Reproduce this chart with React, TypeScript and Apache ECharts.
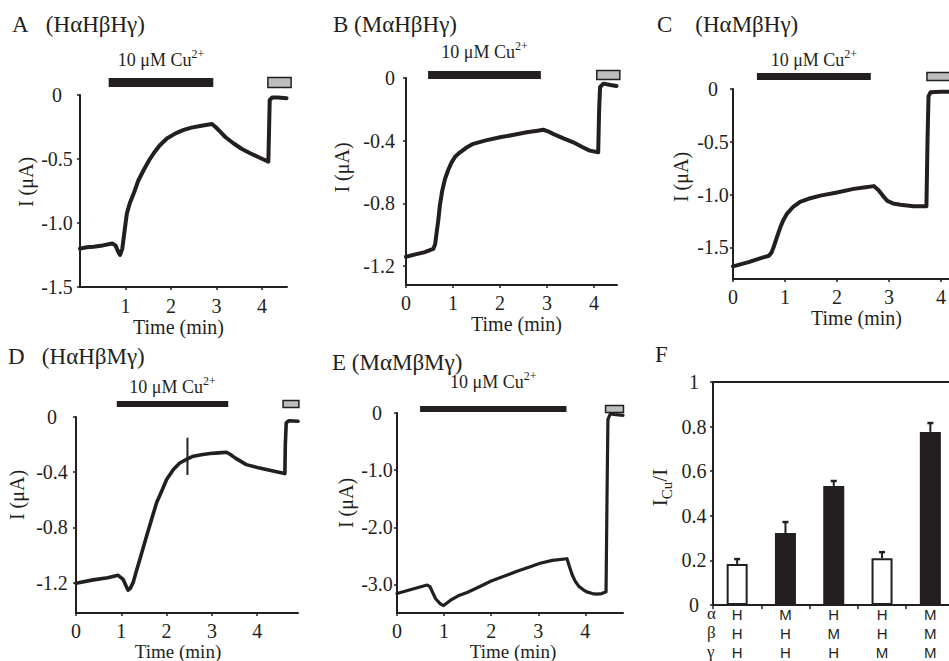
import { useEffect, useRef } from "react";
import * as echarts from "echarts";

// ---------- Data ----------
// Panel A (HαHβHγ)
const timeA = [0, 0.15, 0.3, 0.5, 0.71, 0.78, 0.84, 0.88, 0.93, 0.98, 1.03, 1.1, 1.18, 1.28, 1.4, 1.52, 1.62, 1.75, 1.91, 2.1, 2.28, 2.45, 2.64, 2.8, 2.9, 2.98, 3.08, 3.2, 3.37, 3.55, 3.74, 3.95, 4.14, 4.17, 4.22, 4.35, 4.54];
const currentA = [-1.2, -1.19, -1.185, -1.175, -1.16, -1.175, -1.225, -1.25, -1.2, -1.06, -0.925, -0.84, -0.77, -0.67, -0.586, -0.51, -0.455, -0.395, -0.34, -0.3, -0.273, -0.255, -0.242, -0.232, -0.227, -0.25, -0.286, -0.33, -0.377, -0.42, -0.455, -0.49, -0.52, -0.04, -0.02, -0.02, -0.025];
const cuA = [0.63, 2.93];
const washA = [4.13, 4.64];
const yTicksA = [0, -0.5, -1, -1.5];
const xTicksA = [1, 2, 3, 4];

// Panel B (MαHβHγ)
const timeB = [0, 0.2, 0.4, 0.58, 0.62, 0.65, 0.69, 0.72, 0.77, 0.83, 0.9, 0.97, 1.05, 1.15, 1.28, 1.43, 1.7, 2.0, 2.3, 2.57, 2.8, 2.92, 3.02, 3.13, 3.35, 3.56, 3.75, 3.91, 4.09, 4.11, 4.13, 4.2, 4.35, 4.48];
const currentB = [-1.14, -1.125, -1.11, -1.09, -1.06, -0.99, -0.9, -0.815, -0.72, -0.644, -0.585, -0.538, -0.5, -0.474, -0.445, -0.42, -0.398, -0.378, -0.362, -0.346, -0.336, -0.33, -0.34, -0.356, -0.385, -0.41, -0.44, -0.463, -0.474, -0.2, -0.058, -0.036, -0.045, -0.051];
const cuB = [0.47, 2.87];
const washB = [4.06, 4.55];
const yTicksB = [0, -0.4, -0.8, -1.2];
const xTicksB = [0, 1, 2, 3, 4];

// Panel C (HαMβHγ)
const timeC = [0, 0.3, 0.55, 0.69, 0.74, 0.78, 0.84, 0.91, 0.97, 1.04, 1.15, 1.29, 1.45, 1.68, 2.0, 2.32, 2.55, 2.71, 2.8, 2.88, 2.96, 3.08, 3.22, 3.47, 3.72, 3.74, 3.76, 3.8, 4.0, 4.3, 4.75];
const currentC = [-1.68, -1.64, -1.6, -1.58, -1.55, -1.5, -1.41, -1.31, -1.24, -1.18, -1.12, -1.07, -1.04, -1.01, -0.98, -0.946, -0.93, -0.92, -0.96, -1.01, -1.057, -1.085, -1.096, -1.11, -1.11, -0.5, -0.07, -0.03, -0.025, -0.025, -0.025];
const cuC = [0.46, 2.65];
const washC = [3.73, 4.2];
const yTicksC = [0, -0.5, -1, -1.5];
const xTicksC = [0, 1, 2, 3, 4];

// Panel D (HαHβMγ)
const timeD = [0, 0.38, 0.7, 0.93, 1.04, 1.1, 1.15, 1.2, 1.26, 1.33, 1.41, 1.56, 1.67, 1.78, 1.9, 2.0, 2.15, 2.29, 2.45, 2.59, 2.8, 2.96, 3.15, 3.32, 3.4, 3.51, 3.76, 4.0, 4.2, 4.4, 4.61, 4.62, 4.64, 4.7, 4.9];
const currentD = [-1.205, -1.18, -1.165, -1.147, -1.176, -1.22, -1.255, -1.24, -1.2, -1.12, -1.03, -0.86, -0.74, -0.62, -0.53, -0.453, -0.38, -0.333, -0.305, -0.284, -0.272, -0.265, -0.26, -0.255, -0.27, -0.296, -0.345, -0.365, -0.38, -0.395, -0.41, -0.2, -0.043, -0.027, -0.031];
const markTimeD = [2.46, 2.46];
const markCurrentD = [-0.15, -0.42];
const cuD = [0.9, 3.36];
const washD = [4.57, 4.92];
const yTicksD = [0, -0.4, -0.8, -1.2];
const xTicksD = [0, 1, 2, 3, 4];

// Panel E (MαMβMγ)
const timeE = [0, 0.3, 0.64, 0.7, 0.74, 0.82, 0.92, 0.99, 1.13, 1.3, 1.49, 1.75, 2.0, 2.3, 2.55, 2.8, 3.04, 3.3, 3.61, 3.66, 3.72, 3.79, 3.86, 3.95, 4.03, 4.15, 4.25, 4.35, 4.44, 4.46, 4.48, 4.53, 4.65, 4.8];
const currentE = [-3.16, -3.09, -3.01, -3.04, -3.11, -3.25, -3.34, -3.37, -3.28, -3.2, -3.14, -3.04, -2.94, -2.85, -2.77, -2.7, -2.63, -2.58, -2.55, -2.68, -2.83, -2.95, -3.03, -3.09, -3.13, -3.16, -3.17, -3.16, -3.13, -1.5, -0.11, -0.017, -0.03, -0.04];
const cuE = [0.49, 3.6];
const washE = [4.43, 4.81];
const yTicksE = [0, -1, -2, -3];
const xTicksE = [0, 1, 2, 3, 4];

// Panel F
const alphaRow = ["H", "M", "H", "H", "M"];
const betaRow = ["H", "H", "M", "H", "M"];
const gammaRow = ["H", "H", "H", "M", "M"];
const ratioCu = [0.184, 0.323, 0.534, 0.21, 0.776];
const ratioErr = [0.022, 0.049, 0.022, 0.027, 0.04];
const yTicksF = [0, 0.2, 0.4, 0.6, 0.8, 1];

// ---------- Styles ----------
const INK = "#231f20";
const GRAY = "#bcbec0";
const SERIF = "'Liberation Serif','Times New Roman',serif";
const SANS = "'Liberation Sans',Arial,sans-serif";

type Layout = {
  title: string; titleLeft: number; titleTop: number;
  grid: { left: number; top: number; width: number; height: number };
  xMax: number; yMin: number;
  xLabelMargin: number; xNameGap: number; xNameShift: number; xNameSize: number;
  yAlign: string; yLabelMargin: number; yNameGap: number; yNameUp: number;
  barUp: number; thick: number; labelUp: number; lineWidth: number;
};

const panels = [
  { time: timeA, current: currentA, cu: cuA, wash: washA, yTicks: yTicksA, xTicks: xTicksA },
  { time: timeB, current: currentB, cu: cuB, wash: washB, yTicks: yTicksB, xTicks: xTicksB },
  { time: timeC, current: currentC, cu: cuC, wash: washC, yTicks: yTicksC, xTicks: xTicksC },
  { time: timeD, current: currentD, cu: cuD, wash: washD, yTicks: yTicksD, xTicks: xTicksD },
  { time: timeE, current: currentE, cu: cuE, wash: washE, yTicks: yTicksE, xTicks: xTicksE },
];

const NB = "\u00a0";
const layouts: Layout[] = [
  { title: `A${NB}${NB}${NB}(HαHβHγ)`, titleLeft: 12, titleTop: 13, grid: { left: 80, top: 95, width: 207, height: 192 }, xMax: 4.55, yMin: -1.5, xLabelMargin: 9, xNameGap: 24, xNameShift: -5, xNameSize: 20, yAlign: "center", yLabelMargin: 23, yNameGap: 44, yNameUp: 9, barUp: 17, thick: 9, labelUp: 35, lineWidth: 4 },
  { title: `B${NB}(MαHβHγ)`, titleLeft: 333, titleTop: 13, grid: { left: 406, top: 78, width: 211, height: 207 }, xMax: 4.49, yMin: -1.32, xLabelMargin: 8, xNameGap: 26, xNameShift: 5, xNameSize: 20, yAlign: "right", yLabelMargin: 11, yNameGap: 54, yNameUp: 14, barUp: 7, thick: 8, labelUp: 26, lineWidth: 4 },
  { title: `C${NB}${NB}${NB}${NB}(HαMβHγ)`, titleLeft: 657, titleTop: 13, grid: { left: 733, top: 89, width: 247, height: 190 }, xMax: 4.75, yMin: -1.8, xLabelMargin: 8, xNameGap: 25, xNameShift: 0, xNameSize: 20, yAlign: "center", yLabelMargin: 20, yNameGap: 42, yNameUp: 7, barUp: 16, thick: 7, labelUp: 29, lineWidth: 4 },
  { title: `D${NB}${NB}${NB}(HαHβMγ)`, titleLeft: 8, titleTop: 345, grid: { left: 76, top: 417, width: 222, height: 196 }, xMax: 4.9, yMin: -1.42, xLabelMargin: 8, xNameGap: 22, xNameShift: -9, xNameSize: 19, yAlign: "center", yLabelMargin: 24, yNameGap: 49, yNameUp: 20, barUp: 16, thick: 6, labelUp: 30, lineWidth: 3.6 },
  { title: `E${NB}(MαMβMγ)`, titleLeft: 332, titleTop: 351, grid: { left: 397, top: 413, width: 226, height: 200 }, xMax: 4.8, yMin: -3.5, xLabelMargin: 8, xNameGap: 22, xNameShift: 3, xNameSize: 19, yAlign: "center", yLabelMargin: 20, yNameGap: 41, yNameUp: 10, barUp: 7, thick: 6, labelUp: 31, lineWidth: 3.2 },
];
const gridF = { left: 713, top: 382, width: 241.5, height: 223 };

function buildOption(): any {
  const grids: any[] = [];
  const xAxes: any[] = [];
  const yAxes: any[] = [];
  const series: any[] = [];
  const titles: any[] = [];
  const textBase = { color: INK, fontFamily: SERIF, fontWeight: "normal" as const };

  panels.forEach((p, i) => {
    const L = layouts[i];
    grids.push({ ...L.grid, containLabel: false, outerBoundsMode: "none" });
    titles.push({ text: L.title, left: L.titleLeft, top: L.titleTop, padding: 0, textStyle: { ...textBase, fontSize: 23 } });
    xAxes.push({
      type: "value", gridIndex: i, min: 0, max: L.xMax,
      axisLine: { show: true, onZero: false, lineStyle: { color: INK, width: 2 } },
      axisTick: { show: true, length: 3, customValues: p.xTicks, lineStyle: { color: INK, width: 1.5 } },
      axisLabel: { customValues: p.xTicks, ...textBase, fontSize: 20, margin: L.xLabelMargin, formatter: (v: number) => String(v) },
      splitLine: { show: false },
      name: "Time (min)", nameLocation: "middle", nameGap: L.xNameGap,
      nameTextStyle: { ...textBase, fontSize: L.xNameSize, lineHeight: L.xNameSize, padding: L.xNameShift < 0 ? [0, -2 * L.xNameShift, 0, 0] : [0, 0, 0, 2 * L.xNameShift] },
    });
    yAxes.push({
      type: "value", gridIndex: i, min: L.yMin, max: 0,
      axisLine: { show: true, onZero: false, lineStyle: { color: INK, width: 2 } },
      axisTick: { show: true, length: 3, customValues: p.yTicks, lineStyle: { color: INK, width: 1.5 } },
      axisLabel: { customValues: p.yTicks, ...textBase, fontSize: 20, align: L.yAlign, margin: L.yLabelMargin, formatter: (v: number) => (v === 0 ? "0" : v.toFixed(1)) },
      splitLine: { show: false },
      name: "I (μA)", nameLocation: "middle", nameGap: L.yNameGap,
      nameTextStyle: { ...textBase, fontSize: 20, padding: [0, 0, 0, 2 * L.yNameUp] },
    });
    series.push({
      type: "line", xAxisIndex: i, yAxisIndex: i, showSymbol: false, silent: true,
      data: p.time.map((t, k) => [t, p.current[k]]),
      lineStyle: { color: INK, width: L.lineWidth, join: "round", cap: "round" },
      z: 3,
    });
    series.push({
      type: "custom", xAxisIndex: i, yAxisIndex: i, clip: false, silent: true,
      data: [[p.cu[0], p.cu[1], 0], [p.wash[0], p.wash[1], 1]],
      encode: { x: [0, 1] },
      renderItem: (params: any, api: any) => {
        const x0 = api.coord([api.value(0), 0])[0];
        const x1 = api.coord([api.value(1), 0])[0];
        const top = params.coordSys.y;
        if (api.value(2) === 0) {
          return {
            type: "group",
            children: [
              { type: "rect", shape: { x: x0, y: top - L.barUp, width: x1 - x0, height: L.thick }, style: { fill: INK } },
              {
                type: "text", x: (x0 + x1) / 2, y: top - L.labelUp,
                style: {
                  text: "10 μM Cu{sup|2+}", fill: INK, fontFamily: SERIF, fontSize: 18, lineHeight: 24,
                  align: "center", verticalAlign: "middle",
                  rich: { sup: { fontSize: 12, fontFamily: SERIF, fill: INK, verticalAlign: "top" } },
                },
              },
            ],
          };
        }
        return { type: "rect", shape: { x: x0, y: top - L.barUp - 0.5, width: x1 - x0, height: L.thick + 1 }, style: { fill: GRAY, stroke: INK, lineWidth: 1.5 } };
      },
      z: 4,
    });
  });

  // vertical mark in panel D
  series.push({
    type: "line", xAxisIndex: 3, yAxisIndex: 3, showSymbol: false, silent: true,
    data: markTimeD.map((t, k) => [t, markCurrentD[k]]),
    lineStyle: { color: INK, width: 2 }, z: 3,
  });

  // Panel F
  const fi = 5;
  const cats = alphaRow.map((a, k) => a + betaRow[k] + gammaRow[k]);
  const openBar = (k: number) => alphaRow[k] === "H" && betaRow[k] === "H";
  grids.push({ ...gridF, containLabel: false, outerBoundsMode: "none" });
  titles.push({ text: "F", left: 655, top: 343, padding: 0, textStyle: { ...textBase, fontSize: 23 } });
  titles.push({ text: "α\nβ\nγ", left: 707, top: 604, padding: 0, textStyle: { ...textBase, fontSize: 17, lineHeight: 19 } });
  xAxes.push({
    type: "category", gridIndex: fi, data: cats,
    axisLine: { show: true, onZero: false, lineStyle: { color: INK, width: 2 } },
    axisTick: { show: true, length: 4, lineStyle: { color: INK, width: 1.5 } },
    axisLabel: {
      color: INK, fontFamily: SANS, fontSize: 15, lineHeight: 19, margin: 0,
      formatter: (_v: string, k: number) => `${alphaRow[k]}\n${betaRow[k]}\n${gammaRow[k]}`,
    },
  });
  xAxes.push({
    type: "category", gridIndex: fi, data: cats, position: "top",
    axisLine: { show: true, onZero: false, lineStyle: { color: INK, width: 2 } },
    axisTick: { show: false }, axisLabel: { show: false },
  });
  yAxes.push({
    type: "value", gridIndex: fi, min: 0, max: 1,
    axisLine: { show: true, onZero: false, lineStyle: { color: INK, width: 2 } },
    axisTick: { show: true, length: 3, customValues: yTicksF, lineStyle: { color: INK, width: 1.5 } },
    axisLabel: { customValues: yTicksF, ...textBase, fontSize: 20, align: "center", margin: 19, formatter: (v: number) => String(+v.toFixed(1)) },
    splitLine: { show: false },
    name: "I{sub|Cu}/I", nameLocation: "middle", nameGap: 39,
    nameTextStyle: {
      ...textBase, fontSize: 21, lineHeight: 28, padding: [0, 0, 0, 12],
      rich: { sub: { fontSize: 15, lineHeight: 28, fontFamily: SERIF, color: INK, verticalAlign: "bottom" } },
    },
  });
  series.push({
    type: "bar", xAxisIndex: fi, yAxisIndex: fi, barWidth: 21, silent: true,
    data: ratioCu.map((v, k) => ({ value: v, itemStyle: { color: openBar(k) ? "#ffffff" : INK, borderColor: INK, borderWidth: 2 } })),
    z: 2,
  });
  series.push({
    type: "custom", xAxisIndex: fi, yAxisIndex: fi, silent: true,
    data: ratioCu.map((v, k) => [k, v, ratioErr[k]]),
    encode: { x: 0, y: 1 },
    renderItem: (_params: any, api: any) => {
      const k = api.value(0);
      const v = api.value(1);
      const e = api.value(2);
      const p0 = api.coord([k, v]);
      const p1 = api.coord([k, v + e]);
      return {
        type: "group",
        children: [
          { type: "line", shape: { x1: p0[0], y1: p0[1], x2: p1[0], y2: p1[1] }, style: { stroke: INK, lineWidth: 2 } },
          { type: "line", shape: { x1: p1[0] - 3, y1: p1[1], x2: p1[0] + 3, y2: p1[1] }, style: { stroke: INK, lineWidth: 2.5 } },
        ],
      };
    },
    z: 3,
  });

  return {
    animation: false,
    backgroundColor: "#ffffff",
    textStyle: { fontFamily: SERIF, color: INK },
    title: titles,
    grid: grids,
    xAxis: xAxes,
    yAxis: yAxes,
    series,
  };
}

export default function App() {
  const ref = useRef<HTMLDivElement>(null);
  useEffect(() => {
    if (!ref.current) return;
    const chart = echarts.init(ref.current, null, { renderer: "svg" });
    chart.setOption(buildOption());
    return () => chart.dispose();
  }, []);
  return (
    <div style={{ position: "fixed", left: 0, top: 0, width: 949, height: 661, overflow: "hidden", background: "#fff" }}>
      <div ref={ref} style={{ width: 990, height: 661 }} />
    </div>
  );
}
